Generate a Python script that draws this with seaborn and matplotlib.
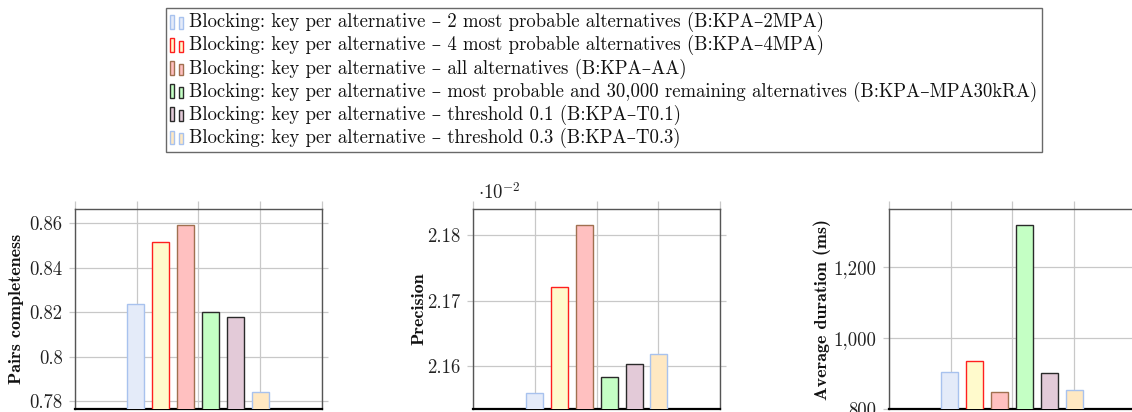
import numpy as np
import pandas as pd
import matplotlib
matplotlib.use("Agg")
import matplotlib.pyplot as plt
import seaborn as sns
from matplotlib.patches import Patch, Rectangle
from matplotlib.legend_handler import HandlerBase
from matplotlib.ticker import FuncFormatter, MultipleLocator

# ---------------- data ----------------
methods = ["B:KPA–2MPA", "B:KPA–4MPA", "B:KPA–AA", "B:KPA–MPA30kRA", "B:KPA–T0.1", "B:KPA–T0.3"]
legend_labels = [
    "Blocking: key per alternative – 2 most probable alternatives (B:KPA–2MPA)",
    "Blocking: key per alternative – 4 most probable alternatives (B:KPA–4MPA)",
    "Blocking: key per alternative – all alternatives (B:KPA–AA)",
    "Blocking: key per alternative – most probable and 30,000 remaining alternatives (B:KPA–MPA30kRA)",
    "Blocking: key per alternative – threshold 0.1 (B:KPA–T0.1)",
    "Blocking: key per alternative – threshold 0.3 (B:KPA–T0.3)",
]
pairs_completeness = [0.8236, 0.8516, 0.8591, 0.8203, 0.8180, 0.7840]
precision_e2 = [2.1560, 2.1721, 2.1815, 2.1584, 2.1603, 2.1619]   # values x 10^-2
avg_duration_ms = [904.7, 934.0, 846.4, 1318.8, 901.0, 853.7]

# ---------------- style ----------------
fills = ["#e4ebf9", "#fffacc", "#ffc0c0", "#c4ffc4", "#e3cad8", "#ffe8c2"]
edges = ["#a8c2ee", "#ff1f1f", "#a07050", "#2a2a2a", "#2a2a2a", "#a8c2ee"]

sns.set_theme(style="white")
plt.rcParams["font.family"] = ["cmr10", "DejaVu Serif"]
plt.rcParams["mathtext.fontset"] = "cm"
plt.rcParams["axes.formatter.use_mathtext"] = True
plt.rcParams["axes.unicode_minus"] = False

FS = 13.5

df = pd.DataFrame({
    "group": ["all"] * len(methods),
    "method": methods,
    "pc": pairs_completeness,
    "prec": precision_e2,
    "dur": avg_duration_ms,
})

fig = plt.figure(figsize=(11.32, 4.12), dpi=100)
W, H = 1132.0, 412.0
panels = [
    ("pc", "Pairs completeness", 75.0, (0.7765, 0.8664), 0.02,
     lambda v, p: ("%.2f" % v).rstrip("0").rstrip("."), -0.205),
    ("prec", "Precision", 473.3, (2.1535, 2.18396), 0.01,
     lambda v, p: "%.2f" % v, -0.19),
    ("dur", "Average duration (ms)", 889.0, (799.0, 1365.0), 200,
     lambda v, p: "{:,.0f}".format(v), -0.235),
]
g = 0.329
grid_c = "#c8c8c8"
for col, ylab, left_px, ylim, step, fmt, labx in panels:
    ax = fig.add_axes([left_px / W, 3.0 / H, 246.5 / W, 200.0 / H])
    sns.barplot(data=df, x="group", y=col, hue="method", hue_order=methods,
                palette=fills, width=0.8, gap=0.32, saturation=1,
                legend=False, ax=ax, zorder=3)
    for cont, ec in zip(ax.containers, edges):
        for bar in cont:
            bar.set_edgecolor(ec)
            bar.set_linewidth(1.0)
    ax.set_xlim(-2 * g, 2 * g)
    ax.set_xticks([-2 * g, -g, 0, g, 2 * g])
    ax.set_xticklabels([])
    ax.set_xlabel("")
    ax.set_ylim(*ylim)
    ax.yaxis.set_major_locator(MultipleLocator(step))
    ax.yaxis.set_major_formatter(FuncFormatter(fmt))
    ax.grid(True, color=grid_c, linewidth=0.9, zorder=0)
    ax.set_axisbelow(True)
    ax.tick_params(axis="x", which="both", bottom=False, top=True, direction="out",
                   length=6, color=grid_c, width=0.9, labelbottom=False)
    ax.tick_params(axis="y", left=True, right=True, direction="out", length=4,
                   color=grid_c, width=0.9, labelsize=FS, pad=5, labelcolor="#222222")
    for s in ["top", "left", "right"]:
        ax.spines[s].set_color("#555555")
        ax.spines[s].set_linewidth(1.0)
    ax.spines["bottom"].set_color("black")
    ax.spines["bottom"].set_linewidth(1.6)
    ax.set_ylabel(ylab, fontsize=13.0, family=["cmb10", "DejaVu Serif"], color="#111111")
    ax.yaxis.set_label_coords(labx, 0.5)
    if col == "prec":
        ax.text(0.02, 1.03, r"$\cdot 10^{-2}$", transform=ax.transAxes,
                fontsize=FS, ha="left", va="bottom", color="#222222")


class DoubleBarHandler(HandlerBase):
    def create_artists(self, legend, orig_handle, xdescent, ydescent,
                       width, height, fontsize, trans):
        fc = orig_handle.get_facecolor()
        ec = orig_handle.get_edgecolor()
        bw = width * 0.3
        r1 = Rectangle((-xdescent, -ydescent - 1), bw, height * 1.05,
                       facecolor=fc, edgecolor=ec, linewidth=1.0, transform=trans)
        r2 = Rectangle((-xdescent + width * 0.65, -ydescent - 1), bw, height * 0.85,
                       facecolor=fc, edgecolor=ec, linewidth=1.0, transform=trans)
        return [r1, r2]


handles = [Patch(facecolor=f, edgecolor=e) for f, e in zip(fills, edges)]
leg = fig.legend(handles, legend_labels, loc="upper center",
                 bbox_to_anchor=(604.0 / W, 1 - 8.0 / H), ncol=1, frameon=True,
                 fancybox=False, fontsize=FS, handlelength=0.72, handletextpad=0.3,
                 labelspacing=0.16, borderpad=0.22, borderaxespad=0,
                 handler_map={Patch: DoubleBarHandler()})
leg.get_frame().set_edgecolor("#444444")
leg.get_frame().set_linewidth(1.0)
for t in leg.get_texts():
    t.set_color("#111111")

fig.savefig("out.png", dpi=100)
